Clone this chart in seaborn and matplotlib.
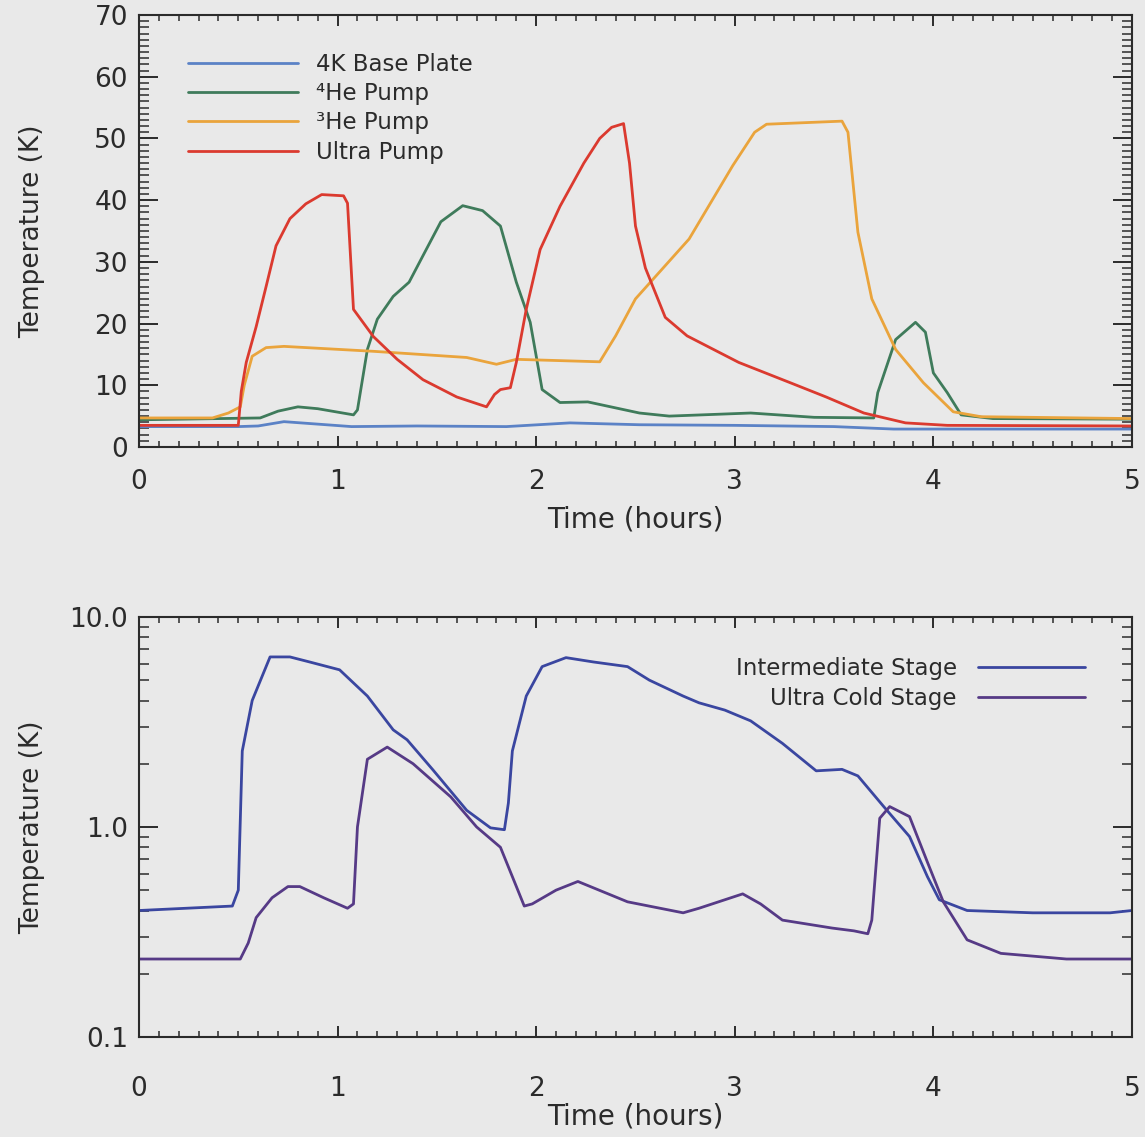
import numpy as np
import pandas as pd
import seaborn as sns
import matplotlib.pyplot as plt
from matplotlib.ticker import MultipleLocator, FixedLocator, FixedFormatter, LogLocator, NullFormatter

# top panel: pump / plate temperatures (K) vs time (hours)
base_t = [0, 0.50, 0.60, 0.73, 0.90, 1.07, 1.40, 1.85, 2.17, 2.52, 3.0, 3.5, 3.8, 4.3, 5.0]
base_T = [3.3, 3.3, 3.4, 4.1, 3.7, 3.3, 3.4, 3.3, 3.9, 3.6, 3.5, 3.3, 2.9, 2.9, 2.9]

he4_t = [0, 0.61, 0.70, 0.80, 0.90, 1.08, 1.10, 1.15, 1.20, 1.28, 1.36, 1.43, 1.52, 1.63, 1.73,
         1.82, 1.90, 1.97, 2.03, 2.12, 2.26, 2.52, 2.67, 3.08, 3.40, 3.70, 3.72, 3.81, 3.91, 3.96,
         4.00, 4.07, 4.14, 4.30, 5.0]
he4_T = [4.4, 4.7, 5.8, 6.5, 6.2, 5.2, 6.0, 15.8, 20.7, 24.4, 26.7, 31, 36.5, 39.1, 38.3,
         35.8, 26.7, 20.2, 9.3, 7.2, 7.3, 5.5, 5.0, 5.5, 4.8, 4.7, 8.8, 17.4, 20.2, 18.6,
         12, 8.8, 5.2, 4.6, 4.5]

he3_t = [0, 0.37, 0.45, 0.51, 0.53, 0.57, 0.64, 0.73, 1.18, 1.65, 1.80, 1.90, 2.32, 2.40, 2.50,
         2.77, 2.99, 3.10, 3.16, 3.54, 3.57, 3.62, 3.69, 3.81, 3.95, 4.10, 4.24, 5.0]
he3_T = [4.7, 4.7, 5.5, 6.5, 10, 14.7, 16.1, 16.3, 15.5, 14.5, 13.4, 14.2, 13.8, 18, 24,
         33.7, 45.6, 51, 52.3, 52.8, 51, 34.8, 24, 15.8, 10.4, 5.7, 4.9, 4.6]

ultra_t = [0, 0.50, 0.515, 0.54, 0.59, 0.64, 0.69, 0.76, 0.84, 0.92, 1.03, 1.05, 1.08, 1.18, 1.30,
           1.43, 1.60, 1.75, 1.79, 1.82, 1.87, 1.90, 1.95, 2.02, 2.12, 2.24, 2.32, 2.38, 2.44, 2.47,
           2.50, 2.55, 2.65, 2.76, 3.02, 3.28, 3.46, 3.65, 3.86, 4.07, 5.0]
ultra_T = [3.5, 3.5, 9.0, 13.7, 19.5, 26, 32.6, 37, 39.4, 40.9, 40.7, 39.5, 22.3, 17.9, 14.2,
           10.9, 8.1, 6.5, 8.5, 9.3, 9.6, 13.7, 22.3, 32, 39, 46, 50, 51.8, 52.4, 46,
           35.8, 29, 21, 18, 13.7, 10.4, 8.1, 5.5, 3.9, 3.5, 3.4]

# bottom panel: stage temperatures (K)
inter_t = [0, 0.47, 0.50, 0.52, 0.57, 0.66, 0.76, 0.86, 1.01, 1.15, 1.28, 1.35, 1.48, 1.65, 1.77,
           1.84, 1.86, 1.88, 1.95, 2.03, 2.15, 2.29, 2.46, 2.57, 2.74, 2.82, 2.95, 3.08, 3.24, 3.41,
           3.54, 3.62, 3.75, 3.88, 3.97, 4.03, 4.17, 4.50, 4.89, 5.0]
inter_T = [0.40, 0.42, 0.50, 2.3, 4.0, 6.45, 6.45, 6.1, 5.6, 4.2, 2.9, 2.6, 1.87, 1.2, 0.99,
           0.97, 1.3, 2.3, 4.2, 5.8, 6.4, 6.1, 5.8, 5.0, 4.2, 3.9, 3.6, 3.2, 2.5, 1.85,
           1.88, 1.75, 1.25, 0.9, 0.58, 0.45, 0.40, 0.39, 0.39, 0.40]

cold_t = [0, 0.51, 0.55, 0.59, 0.67, 0.75, 0.81, 0.93, 1.05, 1.08, 1.10, 1.15, 1.25, 1.38, 1.57,
          1.70, 1.82, 1.88, 1.94, 1.98, 2.10, 2.21, 2.46, 2.74, 2.82, 3.04, 3.13, 3.24, 3.49, 3.60,
          3.67, 3.69, 3.73, 3.78, 3.88, 3.97, 4.05, 4.17, 4.34, 4.67, 5.0]
cold_T = [0.235, 0.235, 0.28, 0.37, 0.46, 0.52, 0.52, 0.46, 0.41, 0.43, 1.0, 2.1, 2.4, 2.0, 1.39,
          1.0, 0.8, 0.58, 0.42, 0.43, 0.5, 0.55, 0.44, 0.39, 0.41, 0.48, 0.43, 0.36, 0.33, 0.32,
          0.31, 0.36, 1.1, 1.25, 1.12, 0.68, 0.44, 0.29, 0.25, 0.235, 0.235]

top_series = [
    ("4K Base Plate", base_t, base_T, "#5b82c6"),
    ("\u2074He Pump", he4_t, he4_T, "#3f7b5b"),
    ("\u00b3He Pump", he3_t, he3_T, "#eaa43c"),
    ("Ultra Pump", ultra_t, ultra_T, "#db3a2f"),
]
bottom_series = [
    ("Intermediate Stage", inter_t, inter_T, "#3a46a0"),
    ("Ultra Cold Stage", cold_t, cold_T, "#563a86"),
]

bg = "#e9e9e9"
ink = "#2b2b2b"

sns.set_theme(style="ticks")
plt.rcParams["font.family"] = ["DejaVu Sans"]
plt.rcParams.update({
    "text.color": ink, "axes.labelcolor": ink, "xtick.color": ink, "ytick.color": ink,
    "axes.edgecolor": ink, "axes.linewidth": 1.5,
})

fig = plt.figure(figsize=(11.45, 11.37), dpi=100, facecolor=bg)
ax1 = fig.add_axes([0.1214, 0.6069, 0.8672, 0.3799], facecolor=bg)
ax2 = fig.add_axes([0.1214, 0.0880, 0.8672, 0.3694], facecolor=bg)

for name, t, T, c in top_series:
    sns.lineplot(x=t, y=T, ax=ax1, color=c, lw=2.0, label=name, sort=False, estimator=None)
for name, t, T, c in bottom_series:
    sns.lineplot(x=t, y=T, ax=ax2, color=c, lw=2.0, label=name, sort=False, estimator=None)

for ax in (ax1, ax2):
    ax.set_xlim(0, 5)
    ax.xaxis.set_major_locator(MultipleLocator(1))
    ax.xaxis.set_minor_locator(MultipleLocator(0.1))
    ax.tick_params(which="both", direction="in", top=True, right=True, labelsize=19)
    ax.tick_params(axis="y", which="major", length=14, width=1.4, pad=8)
    ax.tick_params(axis="y", which="minor", length=7, width=1.1)
    ax.tick_params(axis="x", which="major", length=8, width=1.4)
    ax.tick_params(axis="x", which="minor", length=4, width=1.1)
    ax.set_xlabel("Time (hours)", fontsize=20)
    ax.set_ylabel("Temperature (K)", fontsize=19)
    ax.yaxis.set_label_coords(-0.095, 0.5)

ax1.set_ylim(0, 70)
ax1.yaxis.set_major_locator(MultipleLocator(10))
ax1.yaxis.set_minor_locator(MultipleLocator(1))
ax1.tick_params(axis="x", which="major", pad=16)
ax1.xaxis.set_label_coords(0.5, -0.135)

ax2.set_yscale("log")
ax2.set_ylim(0.1, 10)
ax2.yaxis.set_major_locator(FixedLocator([0.1, 1, 10]))
ax2.yaxis.set_major_formatter(FixedFormatter(["0.1", "1.0", "10.0"]))
ax2.yaxis.set_minor_locator(LogLocator(base=10, subs=np.arange(2, 10)))
ax2.yaxis.set_minor_formatter(NullFormatter())
ax2.tick_params(axis="x", which="major", pad=28)
ax2.xaxis.set_label_coords(0.5, -0.155)

ax1.legend(loc="upper left", bbox_to_anchor=(0.049, 0.912), frameon=False, fontsize=16.5,
           handlelength=4.8, handletextpad=0.8, labelspacing=0.27, borderpad=0, borderaxespad=0)
ax2.legend(loc="upper right", bbox_to_anchor=(0.953, 0.905), frameon=False, fontsize=16.5,
           handlelength=4.7, handletextpad=0.9, labelspacing=0.30, borderpad=0, borderaxespad=0,
           markerfirst=False)

fig.savefig("out.png", dpi=100, facecolor=bg)
